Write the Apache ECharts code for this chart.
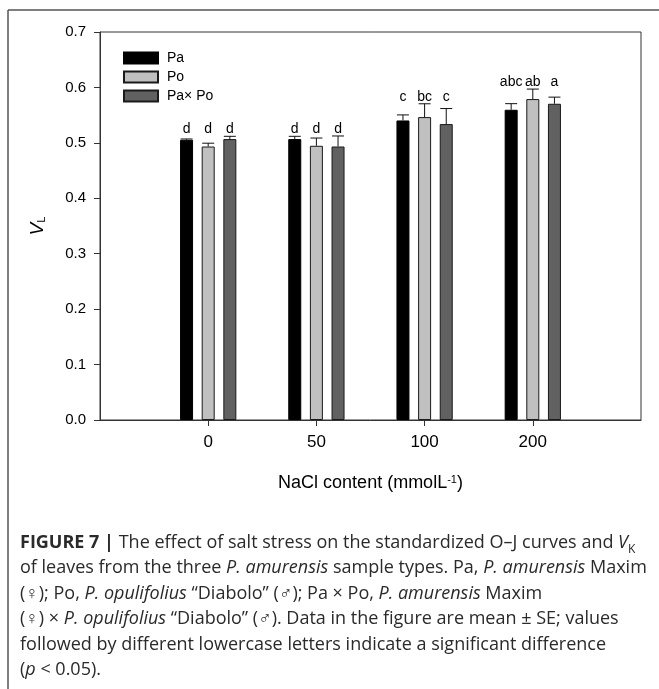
<!DOCTYPE html>
<html>
<head>
<meta charset="utf-8">
<script src="https://cdn.jsdelivr.net/npm/echarts@6/dist/echarts.min.js"></script>
<style>
  html, body { margin: 0; padding: 0; background: #fff; }
  #chart { width: 659px; height: 689px; }
</style>
</head>
<body>
<div id="chart"></div>
<script>
// NaCl levels (mmol/L)
var categories = ['0', '50', '100', '200']
// means
var paValues = [0.5055, 0.5068, 0.5404, 0.5597]
var poValues = [0.4934, 0.4947, 0.5465, 0.579]
var paxpoValues = [0.5068, 0.4934, 0.5339, 0.5705]
// SE
var paErr = [0.0015, 0.005, 0.010, 0.011]
var poErr = [0.006, 0.014, 0.024, 0.018]
var paxpoErr = [0.005, 0.019, 0.028, 0.012]
// significance letters
var paLetters = ['d', 'd', 'c', 'abc']
var poLetters = ['d', 'd', 'bc', 'ab']
var paxpoLetters = ['d', 'd', 'c', 'a']

var groups = [
  { name: 'Pa', values: paValues, err: paErr, letters: paLetters, off: -0.2, color: '#000000', border: '#000000' },
  { name: 'Po', values: poValues, err: poErr, letters: poLetters, off: 0, color: '#c0c0c0', border: '#1a1a1a' },
  { name: 'Pa\u00d7 Po', values: paxpoValues, err: paxpoErr, letters: paxpoLetters, off: 0.2, color: '#616161', border: '#1a1a1a' }
]

var chart = echarts.init(document.getElementById('chart'))
var font = 'Liberation Sans, Arial, sans-serif'
var capFont = 'Open Sans, Liberation Sans, sans-serif'

// bars
var series = groups.map(function(g) {
  return {
    name: g.name,
    type: 'bar',
    barWidth: 13,
    barGap: '-100%',
    itemStyle: { color: g.color, borderColor: g.border, borderWidth: 1 },
    data: g.values.map(function(v, j) {
      return [j + 1 + g.off, v]
    }),
    z: 2
  }
})

// error bars (upper only)
var errData = []
groups.forEach(function(g) {
  g.values.forEach(function(v, j) {
    errData.push([j + 1 + g.off, v, g.err[j]])
  })
})
series.push({
  type: 'custom',
  data: errData,
  z: 3,
  renderItem: function(params, api) {
    var x = api.value(0)
    var m = api.value(1)
    var e = api.value(2)
    var p0 = api.coord([x, m])
    var p1 = api.coord([x, m + e])
    var st = { stroke: '#111', lineWidth: 1 }
    return {
      type: 'group',
      children: [
        { type: 'line', shape: { x1: p0[0], y1: p0[1], x2: p1[0], y2: p1[1] }, style: st },
        { type: 'line', shape: { x1: p1[0] - 6, y1: p1[1], x2: p1[0] + 6, y2: p1[1] }, style: st }
      ]
    }
  }
})

// letters above each group
var letterData = []
categories.forEach(function(c, j) {
  var top = 0
  groups.forEach(function(g) {
    top = Math.max(top, g.values[j] + g.err[j])
  })
  groups.forEach(function(g, i) {
    letterData.push([j + 1 + g.off, top, i, j])
  })
})
series.push({
  type: 'custom',
  data: letterData,
  z: 4,
  renderItem: function(params, api) {
    var p = api.coord([api.value(0), api.value(1)])
    var g = groups[api.value(2)]
    return {
      type: 'text',
      x: p[0],
      y: p[1] - 7,
      style: {
        text: g.letters[api.value(3)],
        fill: '#000',
        font: '14px ' + font,
        align: 'center',
        verticalAlign: 'middle'
      }
    }
  }
})

var option = {
  animation: false,
  backgroundColor: '#fff',
  grid: {
    left: 100,
    top: 32,
    width: 541,
    height: 388,
    show: true,
    borderColor: '#333',
    borderWidth: 1
  },
  legend: {
    orient: 'vertical',
    left: 123,
    top: 51,
    padding: 0,
    itemWidth: 34,
    itemHeight: 11,
    itemGap: 5,
    icon: 'rect',
    data: groups.map(function(g) { return g.name }),
    textStyle: { fontSize: 14, color: '#000', fontFamily: font, padding: [0, 0, 0, 4] }
  },
  xAxis: {
    type: 'value',
    min: 0,
    max: 5,
    interval: 1,
    splitLine: { show: false },
    axisLine: { lineStyle: { color: '#333' } },
    axisTick: { length: 6, customValues: [1, 2, 3, 4], lineStyle: { color: '#333' } },
    axisLabel: {
      customValues: [1, 2, 3, 4],
      margin: 14,
      fontSize: 17,
      color: '#000',
      fontFamily: font,
      formatter: function(v) { return categories[Math.round(v) - 1] }
    },
    name: '{t|NaCl content (mmolL}{s|-1}{t|)}',
    nameLocation: 'middle',
    nameGap: 54,
    nameTextStyle: {
      rich: {
        t: { fontSize: 18, color: '#000', fontFamily: font },
        s: { fontSize: 11, color: '#000', fontFamily: font, verticalAlign: 'top' }
      }
    }
  },
  yAxis: {
    type: 'value',
    min: 0,
    max: 0.7,
    interval: 0.1,
    splitLine: { show: false },
    axisLine: { show: true, lineStyle: { color: '#333' } },
    axisTick: { show: true, length: 6, lineStyle: { color: '#333' } },
    axisLabel: {
      margin: 14,
      fontSize: 15,
      color: '#000',
      fontFamily: font,
      formatter: function(v) { return v.toFixed(1) }
    },
    name: '{v|V}{s|L}',
    nameLocation: 'middle',
    nameRotate: 90,
    nameGap: 53,
    nameTextStyle: {
      rich: {
        v: { fontSize: 19, fontStyle: 'italic', color: '#000', fontFamily: font },
        s: { fontSize: 11, color: '#000', fontFamily: font, verticalAlign: 'bottom' }
      }
    }
  },
  graphic: [
    { type: 'line', shape: { x1: 8, y1: 10, x2: 659, y2: 10 }, style: { stroke: '#555', lineWidth: 1.5 } },
    { type: 'line', shape: { x1: 8, y1: 10, x2: 8, y2: 689 }, style: { stroke: '#555', lineWidth: 1.5 } },
    {
      type: 'text',
      left: 20,
      top: 530,
      style: {
        text: [
          '{b|FIGURE 7 |} The effect of salt stress on the standardized O\u2013J curves and {i|V}{k|K}',
          'of leaves from the three {i|P. amurensis} sample types. Pa, {i|P. amurensis} Maxim',
          '(\u2640); Po, {i|P. opulifolius} \u201cDiabolo\u201d (\u2642); Pa \u00d7 Po, {i|P. amurensis} Maxim',
          '(\u2640) \u00d7 {i|P. opulifolius} \u201cDiabolo\u201d (\u2642). Data in the figure are mean \u00b1 SE; values',
          'followed by different lowercase letters indicate a significant difference',
          '({i|p} < 0.05).'
        ].join('\n'),
        font: '18px ' + capFont,
        fill: '#2a2a2a',
        lineHeight: 25.5,
        rich: {
          b: { fontWeight: 'bold', fontSize: 18, fontFamily: capFont, fill: '#2a2a2a', lineHeight: 25.5 },
          i: { fontStyle: 'italic', fontSize: 18, fontFamily: capFont, fill: '#2a2a2a', lineHeight: 25.5 },
          k: { fontSize: 12, fontFamily: capFont, fill: '#2a2a2a', lineHeight: 25.5, verticalAlign: 'bottom' }
        }
      }
    }
  ],
  series: series
}

chart.setOption(option)
</script>
</body>
</html>
